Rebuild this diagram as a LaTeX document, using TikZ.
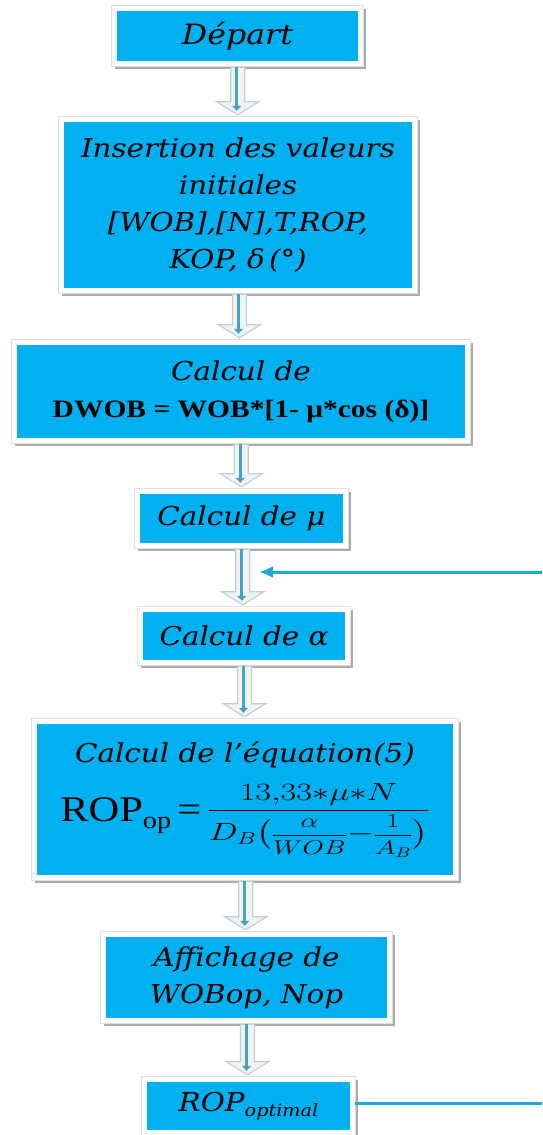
\documentclass[tikz,border=0pt]{standalone}
\usepackage{fontspec}
\usepackage{amsmath}
\usepackage{graphicx}
\usetikzlibrary{calc,arrows.meta,backgrounds}
\newfontfamily\flowserif[FakeStretch=1.13]{DejaVu Serif}
\newfontfamily\flowtimes[FakeStretch=1.18]{Liberation Serif}
\newcommand{\flowit}{\flowserif\itshape}
\definecolor{boxblue}{HTML}{00B0F0}
\definecolor{frameedge}{HTML}{DCE1E1}
\definecolor{shadowc}{HTML}{A9ADA3}
\definecolor{arrowfill}{HTML}{F0F3F4}
\definecolor{arrowedge}{HTML}{C5D0D4}
\definecolor{arrowcore}{HTML}{4A9FC4}
\definecolor{loopblue}{HTML}{1CA8E3}
% hollow block arrow between two boxes, with a thin core line
\newcommand{\flowarrow}[2]{%
  \filldraw[arrowbody] let \p1=(#1.south), \p2=(#2.north),
      \p3=($(#1.south)!.5!(#2.north)$) in
    (\x3-7pt,\y1-6pt) -- (\x3+7pt,\y1-6pt) -- (\x3+7pt,\y2+20pt)
    -- (\x3+21pt,\y2+20pt) -- (\x3,\y2+7pt) -- (\x3-21pt,\y2+20pt)
    -- (\x3-7pt,\y2+20pt) -- cycle;
  \draw[arrowline] let \p1=(#1.south), \p2=(#2.north),
      \p3=($(#1.south)!.5!(#2.north)$) in
    (\x3-1pt,\y1-6pt) -- (\x3-1pt,\y2+11pt);
}
\begin{document}
\begin{tikzpicture}[x=1pt,y=-1pt,
  flowbox/.style={fill=boxblue, inner sep=0pt, align=center,
    font=\flowit\fontsize{26}{37}\selectfont},
  arrowbody/.style={fill=arrowfill, draw=arrowedge, line width=1.2pt, line join=miter},
  arrowline/.style={draw=arrowcore, line width=3pt,
    -{Triangle[width=9pt,length=5pt]}},
  loopline/.style={draw=loopblue, line width=3pt}]
\useasboundingbox (0,0) rectangle (542,1135);

\node[flowbox, minimum width=241pt, minimum height=50pt,
  font=\flowit\fontsize{28}{37}\selectfont] (start) at (237.5,36) {Départ};
\node[flowbox, minimum width=348pt, minimum height=166pt] (init) at (238,205)
  {Insertion des valeurs\\initiales\\{[}WOB{]},{[}N{]},T,ROP,\\KOP, δ\,(°)};
\node[flowbox, minimum width=448pt, minimum height=93pt] (dwob) at (241,391.5)
  {Calcul de\\{\flowtimes\bfseries\upshape\fontsize{25}{37}\selectfont DWOB = WOB*[1- μ*cos (δ)]}};
\node[flowbox, minimum width=203pt, minimum height=49pt] (mu) at (241.5,518.5) {Calcul de μ};
\node[flowbox, minimum width=202pt, minimum height=48pt] (alpha) at (244,636) {Calcul de α};
\node[flowbox, minimum width=416pt, minimum height=151pt] (eq) at (245,799.5)
  {Calcul de l’équation(5)\\[14pt]
   {\flowtimes\upshape\fontsize{36}{36}\selectfont ROP\raisebox{-7pt}{\fontsize{24}{24}\selectfont op}\,=\,}%
   \raisebox{5pt}{\scalebox{1.38}[1]{\fontsize{26}{28}\selectfont$\dfrac{13{,}33{\ast}\mu{\ast}N}{D_B\bigl(\scalebox{0.8}{$\dfrac{\alpha}{WOB}$}{-}\scalebox{0.8}{$\dfrac{1}{A_B}$}\bigr)}$}}};
\node[flowbox, minimum width=281pt, minimum height=81pt] (show) at (246.5,977.5)
  {Affichage de\\WOBop, Nop};
\node[flowbox, minimum width=203pt, minimum height=48pt] (ropt) at (248.5,1106)
  {ROP\raisebox{-5pt}{\fontsize{17}{17}\selectfont optimal}};

% white frames with a soft shadow behind every box
\begin{scope}[on background layer]
  \fill[white] (0,0) rectangle (542,1135);
  \foreach \n in {start,init,dwob,mu,alpha,eq,show,ropt} {
    \fill[shadowc] ([shift={(-2pt,-8pt)}]\n.south west) rectangle ([shift={(8pt,2pt)}]\n.north east);
    \filldraw[fill=white, draw=frameedge, line width=1pt]
      ([shift={(-5pt,-5pt)}]\n.south west) rectangle ([shift={(5pt,5pt)}]\n.north east);
  }
\end{scope}

% block arrows
\flowarrow{start}{init}
\flowarrow{init}{dwob}
\flowarrow{dwob}{mu}
\flowarrow{mu}{alpha}
\flowarrow{alpha}{eq}
\flowarrow{eq}{show}
\flowarrow{show}{ropt}

% return loop
\coordinate (loopout) at (542,1103);
\coordinate (loopback) at (542,572);
\coordinate (loopin) at (259,572);
\draw[loopline] ([shift={(5pt,3pt)}]ropt.east) -- (loopout);
\draw[loopline, -{Latex[length=14pt,width=12pt]}] (loopback) -- (loopin);
\end{tikzpicture}
\end{document}
